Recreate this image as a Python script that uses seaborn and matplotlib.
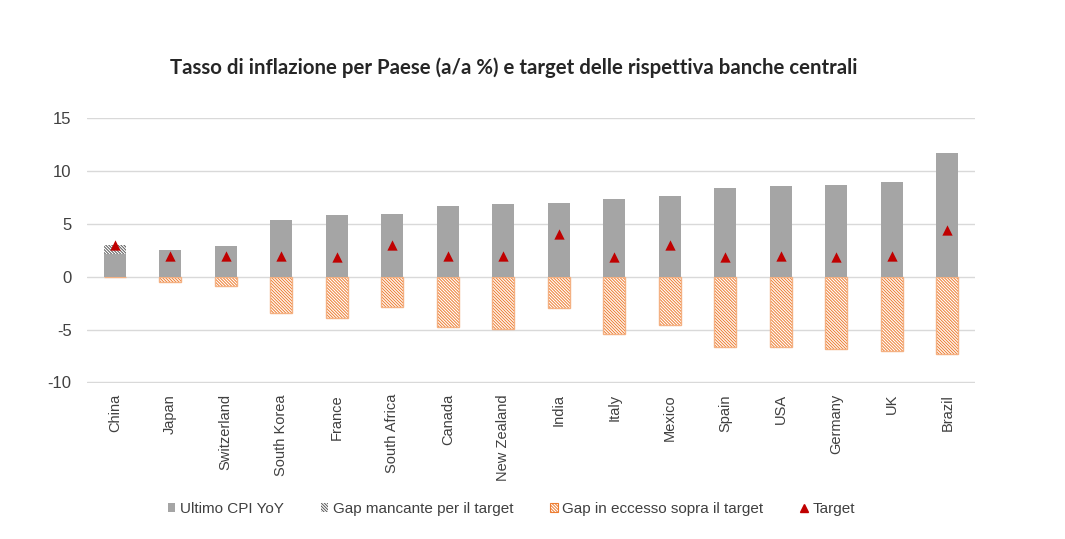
import numpy as np
import pandas as pd
import matplotlib
matplotlib.use("Agg")
import matplotlib.pyplot as plt
from matplotlib.patches import Patch
from matplotlib.lines import Line2D
import seaborn as sns

# data
paesi = ["China", "Japan", "Switzerland", "South Korea", "France", "South Africa",
         "Canada", "New Zealand", "India", "Italy", "Mexico", "Spain", "USA",
         "Germany", "UK", "Brazil"]
cpi = [2.1, 2.5, 2.9, 5.4, 5.8, 5.9, 6.7, 6.9, 7.0, 7.3, 7.6, 8.4, 8.6, 8.7, 9.0, 11.7]
target = [3.0, 2.0, 2.0, 2.0, 1.9, 3.0, 2.0, 2.0, 4.0, 1.9, 3.0, 1.9, 2.0, 1.9, 2.0, 4.4]
gap_mancante = [0.9, 0, 0, 0, 0, 0, 0, 0, 0, 0, 0, 0, 0, 0, 0, 0]
gap_eccesso = [0, -0.5, -0.9, -3.4, -3.9, -2.9, -4.8, -4.9, -3.0, -5.4, -4.6, -6.6, -6.6, -6.8, -7.0, -7.3]

df = pd.DataFrame({"paese": paesi, "cpi": cpi, "target": target,
                   "mancante": gap_mancante, "eccesso": gap_eccesso})
df["top_mancante"] = df["cpi"] + df["mancante"]

sns.set_style("white")
plt.rcParams["font.family"] = ["Liberation Sans", "DejaVu Sans"]
plt.rcParams["hatch.linewidth"] = 0.7
plt.rcParams["axes.unicode_minus"] = False

grigio = "#A5A5A5"
arancio = "#ED7D31"
arancio_chiaro = "#F4B183"
rosso = "#C00000"
hatch = "\\" * 11

fig = plt.figure(figsize=(10.65, 5.39), dpi=100)
ax = fig.add_axes([0.0817, 0.2894, 0.8338, 0.4916])

# missing gap drawn as full-height hatched bar, then covered by the CPI bar
sns.barplot(data=df, x="paese", y="top_mancante", color="white", edgecolor="#595959",
            linewidth=0, hatch=hatch, width=0.4, ax=ax, zorder=2)
sns.barplot(data=df, x="paese", y="cpi", color=grigio, linewidth=0, width=0.4,
            ax=ax, zorder=3)
# excess gap: orange hatch, lighter outline on top
sns.barplot(data=df, x="paese", y="eccesso", color="white", edgecolor=arancio,
            linewidth=0, hatch=hatch, width=0.4, ax=ax, zorder=2)
sns.barplot(data=df, x="paese", y="eccesso", color=arancio_chiaro, fill=False,
            linewidth=1, width=0.4, ax=ax, zorder=2.5)
sns.scatterplot(data=df, x="paese", y="target", marker="^", color=rosso, s=55,
                linewidth=0, ax=ax, zorder=4)

ax.set_ylim(-10.05, 15)
ax.set_xlim(-0.5, len(paesi) - 0.5)
ax.set_yticks([-10, -5, 0, 5, 10, 15])
ax.yaxis.grid(True, color="#D9D9D9", linewidth=1)
ax.set_axisbelow(True)
sns.despine(ax=ax, left=True, bottom=True)
ax.set_xlabel("")
ax.set_ylabel("")
ax.tick_params(axis="y", length=0, pad=11, labelsize=12, labelcolor="#404040")
ax.tick_params(axis="x", length=0, pad=8, labelsize=10.5, labelcolor="#404040")
plt.setp(ax.get_xticklabels(), rotation=90)

fig.text(0.482, 0.874, "Tasso di inflazione per Paese (a/a %) e target delle rispettiva banche centrali",
         ha="center", va="center", fontsize=14.7, fontweight="bold", family=["Lato", "DejaVu Sans"])

handles = [
    Patch(facecolor=grigio, edgecolor="none"),
    Patch(facecolor="white", edgecolor="#595959", hatch=hatch, linewidth=0),
    Patch(facecolor="white", edgecolor=arancio, hatch=hatch, linewidth=0.8),
    Line2D([], [], marker="^", color=rosso, linestyle="none", markersize=6),
]
labels = ["Ultimo CPI YoY", "Gap mancante per il target",
          "Gap in eccesso sopra il target", "Target"]
fig.legend(handles, labels, loc="center", bbox_to_anchor=(0.48, 1 - 509 / 539),
           ncol=4, frameon=False, fontsize=11, handlelength=0.5, handleheight=0.5,
           handletextpad=0.3, columnspacing=2.4, labelcolor="#404040")

fig.savefig("out.png", dpi=100)
